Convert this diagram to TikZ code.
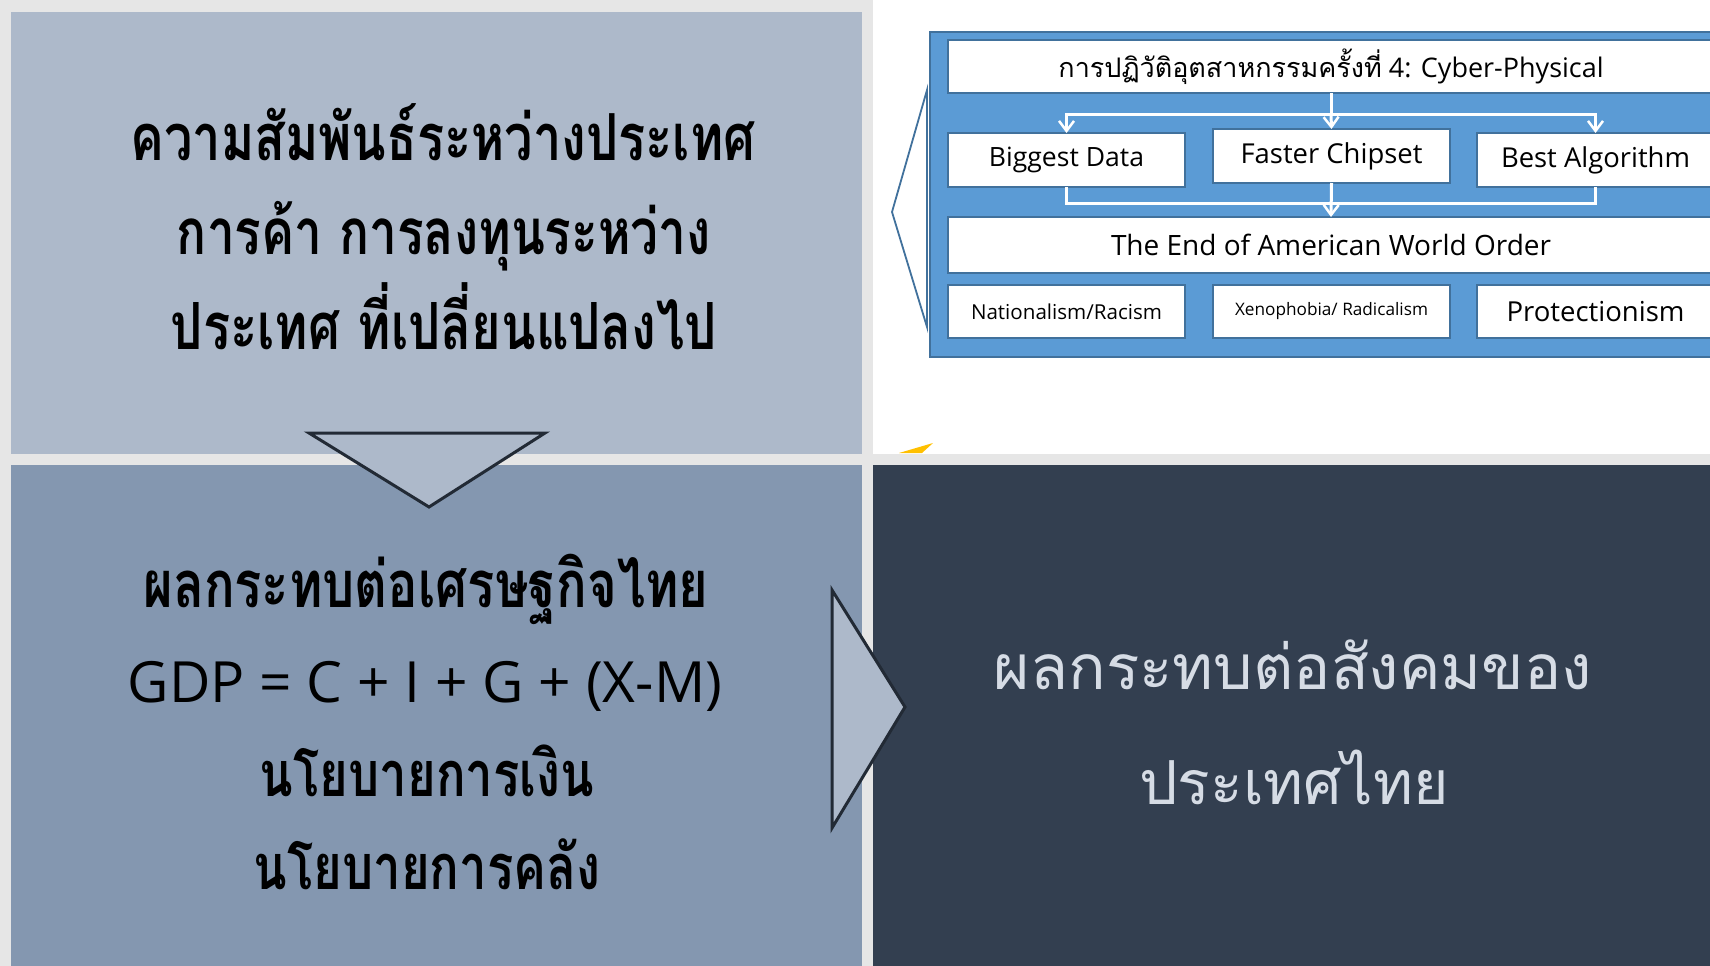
\documentclass[tikz,border=0pt]{standalone}
\usepackage{fontspec}
\setmainfont{Open Sans}
\newfontfamily\thai[Script=Thai]{Loma}
\newfontfamily\thaicond[Script=Thai,FakeStretch=0.78]{Loma}
\usetikzlibrary{arrows.meta}
\definecolor{bggray}{HTML}{E6E6E6}
\definecolor{panelA}{HTML}{ADB9CA}
\definecolor{panelB}{HTML}{8497B0}
\definecolor{panelC}{HTML}{333F50}
\definecolor{darkline}{HTML}{222A35}
\definecolor{lighttext}{HTML}{D6DCE5}
\definecolor{bluefill}{HTML}{5B9BD5}
\definecolor{blueline}{HTML}{41719C}
\definecolor{goldy}{HTML}{FFC000}
\newcommand\fitw[2]{\resizebox{#1pt}{!}{#2}}
\tikzset{
  bigtext/.style={anchor=base, inner sep=0pt, outer sep=0pt, text=black},
  lighttxt/.style={anchor=base, inner sep=0pt, outer sep=0pt, text=lighttext},
  frame/.style={draw=blueline, line width=2pt, fill=bluefill, inner sep=0pt, outer sep=0pt},
  wbox/.style={draw=blueline, line width=1.5pt, fill=white, inner sep=0pt, outer sep=0pt, text=black},
  conn/.style={draw=white, line width=3pt},
  connarrow/.style={conn, -{Straight Barb[length=10pt,width=15pt,line width=2.5pt]}},
  tri/.style={draw=darkline, line width=3pt, fill=panelA, line join=miter},
}
\begin{document}
\begin{tikzpicture}[x=1pt,y=-1pt]
\useasboundingbox (0,0) rectangle (1710,966);
\clip (0,0) rectangle (1710,966);
% background and panels
\fill[bggray] (0,0) rectangle (1710,966);
\fill[white] (873,0) rectangle (1710,454);
\fill[panelA] (11,12) rectangle (862,454);
\fill[panelB] (11,465) rectangle (862,966);
\fill[panelC] (873,465) rectangle (1710,966);
\fill[goldy] (899,453) -- (933,443) -- (922,453) -- cycle;

% top-left text
\node[bigtext] (tl1) at (443,160) {\fitw{625}{\thaicond\bfseries ความสัมพันธ์ระหว่างประเทศ}};
\node[bigtext] (tl2) at (444,254) {\fitw{534}{\thaicond\bfseries การค้า การลงทุนระหว่าง}};
\node[bigtext] (tl3) at (444,349) {\fitw{546}{\thaicond\bfseries ประเทศ ที่เปลี่ยนแปลงไป}};

% bottom-left text
\node[bigtext] (bl1) at (426,607) {\fitw{565}{\thaicond\bfseries ผลกระทบต่อเศรษฐกิจไทย}};
\node[bigtext] (bl2) at (425,702) {\fitw{594}{GDP = C + I + G + (X-M)}};
\node[bigtext] (bl3) at (427,796) {\fitw{334}{\thaicond\bfseries นโยบายการเงิน}};
\node[bigtext] (bl4) at (427,889) {\fitw{347}{\thaicond\bfseries นโยบายการคลัง}};

% bottom-right text
\node[lighttxt] (br1) at (1293,689) {\fitw{598}{\thai ผลกระทบต่อสังคมของ}};
\node[lighttxt] (br2) at (1294,804) {\fitw{309}{\thai ประเทศไทย}};

% triangles
\draw[tri] (309,433) -- (545,433) -- (429,507) -- cycle;
\draw[tri] (832,590) -- (832,828) -- (905,707) -- cycle;

% right diagram
\node[frame, minimum width=802pt, minimum height=325pt] (frm) at (1331,194.5) {};
\draw[blueline, line width=1.8pt, line join=miter] (927,90) -- (892,212) -- (927,327) -- cycle;
\node[wbox, minimum width=766pt, minimum height=53pt] (top) at (1331,66.5)
  {\fitw{545}{{\thai การปฏิวัติอุตสาหกรรมครั้งที่} 4: Cyber-Physical}};
\node[wbox, minimum width=237pt, minimum height=54pt] (bd) at (1066.5,160) {\fitw{155}{Biggest Data}};
\node[wbox, minimum width=237pt, minimum height=54pt] (fc) at (1331.5,156) {\fitw{182}{Faster Chipset}};
\node[wbox, minimum width=237pt, minimum height=54pt] (ba) at (1595.5,160) {\fitw{189}{Best Algorithm}};
\node[wbox, minimum width=766pt, minimum height=56pt] (end) at (1331,245) {\fitw{440}{The End of American World Order}};
\node[wbox, minimum width=237pt, minimum height=53pt] (nat) at (1066.5,311.5) {\fitw{191}{Nationalism/Racism}};
\node[wbox, minimum width=237pt, minimum height=53pt] (xen) at (1331.5,311.5) {\fitw{193}{Xenophobia/ Radicalism}};
\node[wbox, minimum width=237pt, minimum height=53pt] (pro) at (1595.5,311.5) {\fitw{178}{Protectionism}};

\draw[conn] (top.south) -- ++(0,21) coordinate (split);
\draw[connarrow] (split) -| (bd.north);
\draw[connarrow] (split) -| (ba.north);
\draw[connarrow] (split) -- (fc.north);
\draw[conn] (bd.south) -- ++(0,16) -| (ba.south);
\draw[connarrow] (fc.south) -- (end.north);
\end{tikzpicture}
\end{document}
